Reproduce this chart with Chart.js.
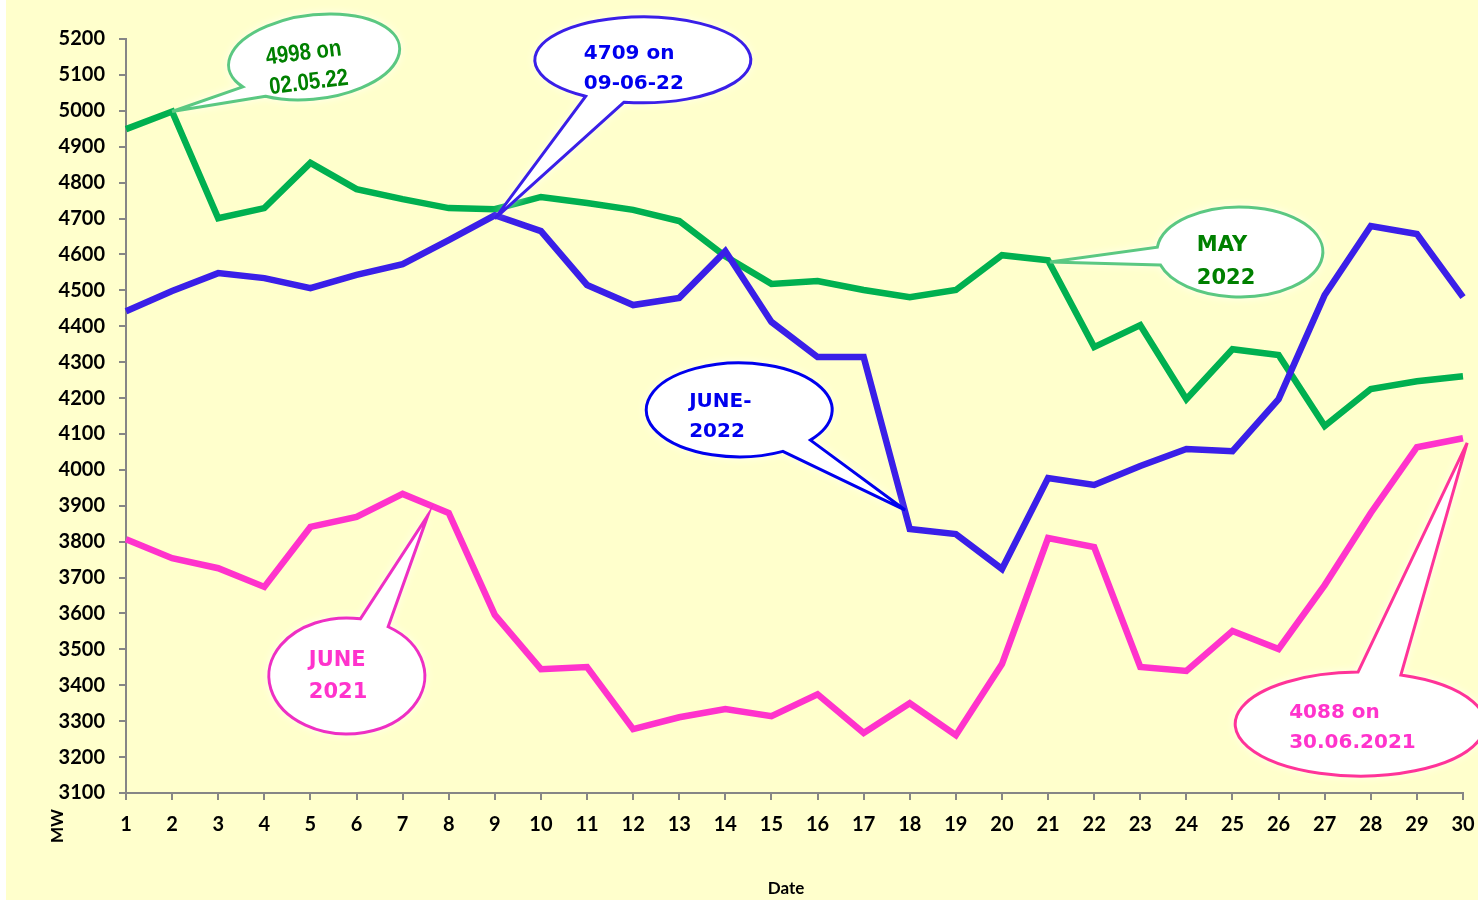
<!DOCTYPE html>
<html>
<head>
<meta charset="utf-8">
<script src="https://cdn.jsdelivr.net/npm/chart.js@4.4.0/dist/chart.umd.min.js"></script>
<style>
  html, body { margin: 0; padding: 0; background: #fff; }
  #wrap { width: 1478px; height: 900px; position: relative; }
</style>
</head>
<body>
<div id="wrap"><canvas id="c" width="1478" height="900"></canvas></div>
<script>
// Datos
const days = [1,2,3,4,5,6,7,8,9,10,11,12,13,14,15,16,17,18,19,20,21,22,23,24,25,26,27,28,29,30];
const may2022  = [4949,4998,4701,4729,4855,4782,4754,4729,4726,4760,4743,4724,4693,4595,4518,4526,4501,4481,4501,4598,4584,4342,4403,4197,4336,4320,4122,4225,4247,4261];
const june2022 = [4442,4498,4548,4534,4506,4543,4573,4640,4709,4665,4515,4459,4479,4609,4412,4314,4314,3835,3821,3724,3977,3958,4011,4058,4052,4197,4487,4679,4657,4481];
const june2021 = [3807,3754,3726,3674,3841,3869,3933,3880,3596,3445,3451,3278,3311,3334,3314,3375,3267,3350,3261,3459,3810,3785,3451,3440,3551,3501,3679,3880,4063,4088];
const yMin = 3100, yMax = 5200, yStep = 100;

const GREEN = '#00B050', BLUE = '#3A1FE8', PINK = '#FF33CC';
const TICK_FONT = { family: 'Lato, "Open Sans", sans-serif', size: 20, weight: 'bold' };
const BOLD = '"DejaVu Sans", sans-serif';

// Globos: punta y centro en coordenadas de datos (día, MW)
const callouts = [
  { lines: ['4998 on', '02.05.22'], tip: [2, 4998], center: [5.08, 5150], rx: 86, ry: 42, rot: -7,
    a1: 128, a2: 150, stroke: '#5BC882', color: '#008000', sx: 0.85,
    font: 'bold 24px "Liberation Sans", sans-serif', dx: -48, dy: [-5, 25] },
  { lines: ['4709 on', '09-06-22'], tip: [9, 4700], center: [12.21, 5142], rx: 108, ry: 43, rot: 0,
    a1: 100, a2: 122, stroke: '#3A1FE8', color: '#0000EE', sx: 1,
    font: 'bold 20px ' + BOLD, dx: -59, dy: [-6, 24] },
  { lines: ['MAY', '2022'], tip: [21.04, 4579], center: [25.16, 4607], rx: 83, ry: 45, rot: 0,
    a1: 163, a2: 186, stroke: '#5BC882', color: '#008000', sx: 1,
    font: 'bold 21px ' + BOLD, dx: -43, dy: [-6, 27] },
  { lines: ['JUNE-', '2022'], tip: [17.9, 3888], center: [14.30, 4167], rx: 93, ry: 47, rot: 0,
    a1: 40, a2: 62, stroke: '#0000EE', color: '#0000EE', sx: 1,
    font: 'bold 20px ' + BOLD, dx: -50, dy: [-8, 22] },
  { lines: ['JUNE', '2021'], tip: [7.55, 3874], center: [5.79, 3426], rx: 78, ry: 58, rot: 0,
    a1: 280, a2: 302, stroke: '#EE2FC4', color: '#FF33CC', sx: 1,
    font: 'bold 21px ' + BOLD, dx: -38, dy: [-15, 17] },
  { lines: ['4088 on', '30.06.2021'], tip: [30.09, 4075], center: [27.77, 3292], rx: 125, ry: 52, rot: 0,
    a1: 269, a2: 289, stroke: '#FF3399', color: '#FF33CC', sx: 1,
    font: 'bold 20px ' + BOLD, dx: -71, dy: [-11, 19] }
];

const rad = (d) => d * Math.PI / 180;

function ellipsePoint(cx, cy, rx, ry, rot, a) {
  const x = rx * Math.cos(a), y = ry * Math.sin(a);
  return [cx + x * Math.cos(rot) - y * Math.sin(rot), cy + x * Math.sin(rot) + y * Math.cos(rot)];
}

const bgPlugin = {
  id: 'bg',
  beforeDraw(chart) {
    const ctx = chart.ctx;
    ctx.save();
    ctx.fillStyle = '#FFFFCC';
    ctx.fillRect(6, 0, chart.width - 6, chart.height);
    ctx.restore();
  }
};

const calloutPlugin = {
  id: 'callouts',
  afterDatasetsDraw(chart) {
    const ctx = chart.ctx;
    const xs = chart.scales.x, ys = chart.scales.y;
    callouts.forEach(c => {
      const cx = xs.getPixelForValue(c.center[0] - 1), cy = ys.getPixelForValue(c.center[1]);
      const tx = xs.getPixelForValue(c.tip[0] - 1), ty = ys.getPixelForValue(c.tip[1]);
      const rot = rad(c.rot);
      const p1 = ellipsePoint(cx, cy, c.rx, c.ry, rot, rad(c.a1));
      const p2 = ellipsePoint(cx, cy, c.rx, c.ry, rot, rad(c.a2));
      ctx.save();
      ctx.beginPath();
      ctx.moveTo(p1[0], p1[1]);
      ctx.lineTo(tx, ty);
      ctx.lineTo(p2[0], p2[1]);
      ctx.ellipse(cx, cy, c.rx, c.ry, rot, rad(c.a2), rad(c.a1 + 360), false);
      ctx.closePath();
      ctx.shadowColor = 'rgba(255,255,255,0.95)';
      ctx.shadowBlur = 10;
      ctx.fillStyle = '#fff';
      ctx.fill();
      ctx.shadowBlur = 0;
      ctx.lineWidth = 3;
      ctx.lineJoin = 'miter';
      ctx.strokeStyle = c.stroke;
      ctx.stroke();

      ctx.translate(cx, cy);
      ctx.rotate(rot);
      ctx.fillStyle = c.color;
      ctx.font = c.font;
      ctx.textAlign = 'left';
      ctx.textBaseline = 'middle';
      c.lines.forEach((ln, i) => {
        ctx.save();
        ctx.translate(c.dx, c.dy[i]);
        ctx.scale(c.sx, 1);
        ctx.fillText(ln, 0, 0);
        ctx.restore();
      });
      ctx.restore();
    });
  },
  afterDraw(chart) {
    const ctx = chart.ctx;
    ctx.save();
    ctx.fillStyle = '#000';
    ctx.font = 'bold 17px Lato, "Open Sans", sans-serif';
    ctx.textAlign = 'center';
    ctx.textBaseline = 'middle';
    ctx.fillText('Date', 786, 889);
    ctx.translate(58, 826);
    ctx.rotate(-Math.PI / 2);
    ctx.fillText('MW', 0, 0);
    ctx.restore();
  }
};

const lineDs = (label, data, color) => ({
  label, data, borderColor: color, backgroundColor: color,
  borderWidth: 6.5, pointRadius: 0, tension: 0, fill: false, borderJoinStyle: 'miter'
});

new Chart(document.getElementById('c').getContext('2d'), {
  type: 'line',
  data: {
    labels: days,
    datasets: [
      lineDs('JUNE-2022', june2022, BLUE),
      lineDs('MAY 2022', may2022, GREEN),
      lineDs('JUNE 2021', june2021, PINK)
    ]
  },
  options: {
    responsive: false,
    animation: false,
    layout: { padding: { left: 0, top: 39, right: 15, bottom: 0 } },
    plugins: { legend: { display: false }, tooltip: { enabled: false } },
    scales: {
      x: {
        type: 'category',
        offset: false,
        afterFit: (s) => { s.height = 107; s.paddingRight = 15; },
        grid: { display: true, drawOnChartArea: false, drawTicks: true, tickLength: 7, color: '#868686', lineWidth: 2 },
        border: { color: '#868686', width: 2 },
        ticks: { color: '#000', font: TICK_FONT, padding: 13, maxRotation: 0, autoSkip: false }
      },
      y: {
        min: yMin, max: yMax,
        afterFit: (s) => { s.width = 126; },
        grid: { display: true, drawOnChartArea: false, drawTicks: true, tickLength: 7, color: '#868686', lineWidth: 2 },
        border: { color: '#868686', width: 2 },
        ticks: { stepSize: yStep, color: '#000', font: TICK_FONT, padding: 14, callback: (v) => String(v) }
      }
    }
  },
  plugins: [bgPlugin, calloutPlugin]
});
</script>
</body>
</html>
